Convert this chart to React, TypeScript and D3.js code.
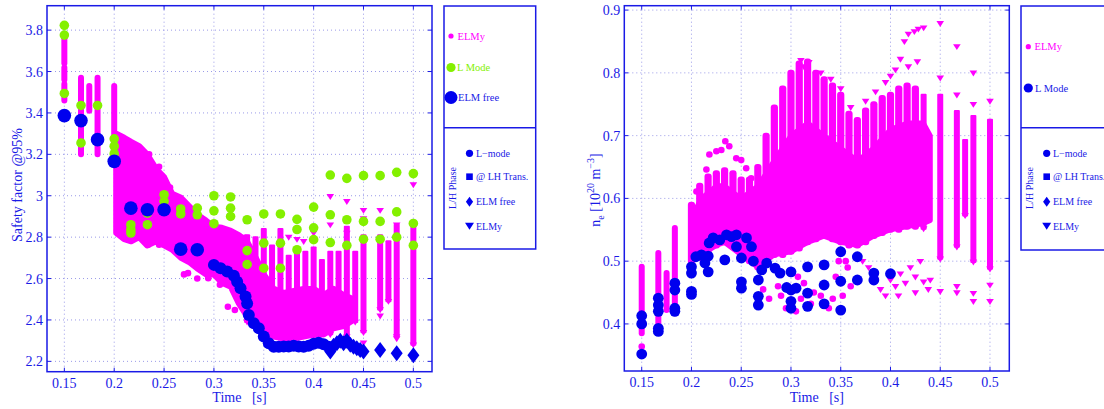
import * as d3 from 'd3';

// ---------- left panel : safety factor ----------
const qTicks = [2.2, 2.4, 2.6, 2.8, 3, 3.2, 3.4, 3.6, 3.8];
const timeTicks = [0.15, 0.2, 0.25, 0.3, 0.35, 0.4, 0.45, 0.5];

// ELMy, early columns (circles)
const qEarlyT = [0.15, 0.15, 0.15, 0.1667, 0.175, 0.1833, 0.2];
const qEarlyLo = [3.64, 3.56, 3.46, 3.2, 3.41, 3.2, 3.2];
const qEarlyHi = [3.78, 3.62, 3.54, 3.57, 3.53, 3.57, 3.53];

// ELMy, dense cloud envelope
const qDenseT = [0.202, 0.21, 0.217, 0.225, 0.233, 0.242, 0.25, 0.258, 0.267, 0.275, 0.283, 0.292, 0.3, 0.308, 0.317, 0.325, 0.333, 0.342, 0.35, 0.36, 0.37, 0.38, 0.39, 0.4, 0.41, 0.42, 0.43, 0.44];
const qDenseHi = [3.3, 3.28, 3.26, 3.24, 3.2, 3.13, 3.09, 3.01, 2.99, 2.95, 2.91, 2.88, 2.85, 2.845, 2.83, 2.81, 2.78, 2.7, 2.62, 2.55, 2.53, 2.54, 2.55, 2.55, 2.52, 2.55, 2.52, 2.5];
const qDenseLo = [2.82, 2.79, 2.78, 2.8, 2.76, 2.78, 2.76, 2.74, 2.7, 2.68, 2.65, 2.62, 2.62, 2.58, 2.56, 2.48, 2.42, 2.37, 2.34, 2.32, 2.31, 2.31, 2.32, 2.33, 2.33, 2.36, 2.37, 2.4];

// ELMy, triangle columns
const qColT = [0.3333, 0.3417, 0.35, 0.3583, 0.3667, 0.375, 0.3833, 0.3917, 0.4, 0.4083, 0.4167, 0.425, 0.4333, 0.4417, 0.45, 0.4667, 0.475, 0.4833, 0.5];
const qColLo = [2.4, 2.45, 2.33, 2.45, 2.34, 2.45, 2.33, 2.45, 2.33, 2.45, 2.34, 2.45, 2.33, 2.4, 2.35, 2.46, 2.5, 2.33, 2.29];
const qColHi = [2.8, 2.79, 2.83, 2.75, 2.83, 2.7, 2.72, 2.72, 2.74, 2.68, 2.72, 2.72, 2.84, 2.72, 2.8, 2.8, 2.77, 2.85, 2.84];

const qDotT = [0.235, 0.245, 0.256, 0.234, 0.245, 0.2167, 0.274, 0.2833, 0.2943, 0.306, 0.314, 0.321, 0.2333, 0.2433, 0.27];
const qDotQ = [3.2, 3.14, 3.04, 2.763, 2.763, 2.787, 2.626, 2.6, 2.602, 2.57, 2.464, 2.448, 2.766, 2.795, 2.62];

const qTriT = [0.31, 0.315, 0.32, 0.325, 0.33, 0.4167, 0.4333, 0.45, 0.4667, 0.5, 0.4, 0.3833, 0.375, 0.39, 0.45, 0.4833, 0.4833, 0.4667, 0.45, 0.4167, 0.4333];
const qTriQ = [2.8, 2.79, 2.81, 2.79, 2.8, 2.997, 2.973, 2.93, 2.93, 3.054, 2.82, 2.79, 2.8, 2.78, 2.89, 2.86, 2.31, 2.42, 2.29, 2.86, 2.82];

// L Mode
const lModeT = [0.15, 0.15, 0.15, 0.1667, 0.1667, 0.1833, 0.2, 0.2, 0.2, 0.2167, 0.2167, 0.2167, 0.2333, 0.2333, 0.25, 0.25, 0.2667, 0.2667, 0.2833, 0.2833, 0.3, 0.3, 0.3, 0.3167, 0.3167, 0.3167, 0.3333, 0.3333, 0.3333, 0.35, 0.35, 0.35, 0.3667, 0.3667, 0.3667, 0.3833, 0.3833, 0.3833, 0.4, 0.4, 0.4, 0.4167, 0.4167, 0.4167, 0.4333, 0.4333, 0.4333, 0.45, 0.45, 0.45, 0.4667, 0.4667, 0.4667, 0.4833, 0.4833, 0.4833, 0.5, 0.5, 0.5];
const lModeQ = [3.823, 3.776, 3.494, 3.436, 3.255, 3.436, 3.275, 3.239, 3.203, 2.86, 2.836, 2.82, 2.86, 2.916, 3.005, 2.973, 2.936, 2.912, 2.94, 2.908, 3.0, 2.927, 2.865, 2.994, 2.94, 2.9, 2.884, 2.735, 2.668, 2.912, 2.771, 2.65, 2.912, 2.771, 2.65, 2.886, 2.837, 2.739, 2.945, 2.845, 2.788, 3.1, 2.908, 2.774, 3.084, 2.884, 2.76, 3.097, 2.876, 2.79, 3.097, 2.876, 2.79, 3.113, 2.922, 2.8, 3.107, 2.866, 2.76];

// ELM free
const freeT = [0.15, 0.1667, 0.1833, 0.2, 0.2167, 0.2333, 0.25, 0.2667, 0.2833];
const freeQ = [3.387, 3.363, 3.271, 3.166, 2.94, 2.932, 2.932, 2.742, 2.739];
const freeCurveT = [0.3, 0.3067, 0.3133, 0.32, 0.3233, 0.3267, 0.3317, 0.3333, 0.335, 0.34, 0.345, 0.35, 0.355, 0.36, 0.365, 0.37, 0.375, 0.38, 0.385, 0.39, 0.395, 0.4, 0.405, 0.41, 0.415];
const freeCurveQ = [2.666, 2.65, 2.634, 2.613, 2.585, 2.553, 2.513, 2.48, 2.424, 2.384, 2.36, 2.32, 2.287, 2.27, 2.27, 2.272, 2.272, 2.275, 2.272, 2.27, 2.275, 2.285, 2.29, 2.283, 2.27];
const freeDiaT = [0.4167, 0.42, 0.4233, 0.4267, 0.43, 0.4333, 0.4367, 0.44, 0.4433, 0.4467, 0.45, 0.4667, 0.4833, 0.5];
const freeDiaQ = [2.247, 2.275, 2.287, 2.3, 2.287, 2.3, 2.28, 2.27, 2.263, 2.255, 2.247, 2.255, 2.239, 2.23];

// ---------- right panel : density ----------
const neTicks = [0.4, 0.5, 0.6, 0.7, 0.8, 0.9];

const nEarlyT = [0.15, 0.1667, 0.175, 0.1833];
const nEarlyLo = [0.385, 0.39, 0.422, 0.417];
const nEarlyHi = [0.491, 0.513, 0.481, 0.553];

const nCoreT = [0.2, 0.21, 0.225, 0.233, 0.25, 0.267, 0.283, 0.3, 0.317, 0.333, 0.35, 0.367, 0.383, 0.4, 0.417, 0.433, 0.44];
const nCoreLo = [0.5, 0.51, 0.525, 0.53, 0.51, 0.49, 0.51, 0.515, 0.53, 0.54, 0.53, 0.525, 0.54, 0.55, 0.555, 0.56, 0.565];
const nCoreHi = [0.57, 0.6, 0.62, 0.62, 0.6, 0.62, 0.66, 0.7, 0.72, 0.7, 0.68, 0.66, 0.68, 0.71, 0.72, 0.72, 0.7];

const nStreakT = [0.2, 0.2083, 0.2167, 0.225, 0.2333, 0.2417, 0.25, 0.2583, 0.2667, 0.275, 0.2833, 0.2917, 0.3, 0.3083, 0.3167, 0.325, 0.3333, 0.3417, 0.35, 0.3583, 0.3667, 0.375, 0.3833, 0.3917, 0.4, 0.4083, 0.4167, 0.425];
const nStreakHi = [0.59, 0.62, 0.635, 0.64, 0.645, 0.64, 0.63, 0.63, 0.65, 0.7, 0.745, 0.775, 0.8, 0.815, 0.818, 0.8, 0.79, 0.78, 0.765, 0.735, 0.725, 0.74, 0.75, 0.76, 0.765, 0.775, 0.78, 0.775];
const nStreakLo = [0.5, 0.505, 0.515, 0.525, 0.53, 0.525, 0.51, 0.5, 0.49, 0.5, 0.51, 0.51, 0.515, 0.52, 0.53, 0.535, 0.54, 0.535, 0.53, 0.525, 0.525, 0.53, 0.54, 0.545, 0.55, 0.55, 0.555, 0.555];

const nColT = [0.4333, 0.45, 0.4667, 0.475, 0.4833, 0.5];
const nColLo = [0.555, 0.507, 0.526, 0.576, 0.502, 0.491];
const nColHi = [0.762, 0.762, 0.736, 0.69, 0.728, 0.722];

const nDotT = [0.15, 0.205, 0.215, 0.218, 0.225, 0.23, 0.234, 0.238, 0.245, 0.25, 0.255, 0.26, 0.272, 0.278, 0.29, 0.295, 0.305, 0.31, 0.313, 0.32, 0.323, 0.33, 0.338, 0.342, 0.345, 0.352, 0.357, 0.36, 0.355, 0.348, 0.307, 0.287];
const nDotN = [0.364, 0.611, 0.646, 0.67, 0.675, 0.677, 0.691, 0.683, 0.664, 0.661, 0.648, 0.632, 0.455, 0.44, 0.445, 0.425, 0.42, 0.44, 0.465, 0.432, 0.45, 0.445, 0.425, 0.44, 0.475, 0.445, 0.49, 0.46, 0.5, 0.5, 0.475, 0.46];

const nTriT = [0.45, 0.45, 0.45, 0.4667, 0.4667, 0.4667, 0.4667, 0.4833, 0.4833, 0.4833, 0.4833, 0.5, 0.5, 0.5, 0.4333, 0.372, 0.378, 0.385, 0.39, 0.395, 0.4, 0.405, 0.41, 0.415, 0.42, 0.425, 0.43, 0.438, 0.44, 0.408, 0.425, 0.395, 0.4, 0.405, 0.41, 0.414, 0.418, 0.424, 0.428, 0.4333, 0.427, 0.418, 0.31, 0.313, 0.318, 0.33, 0.34, 0.35, 0.36, 0.375, 0.385];
const nTriN = [0.792, 0.879, 0.452, 0.765, 0.842, 0.46, 0.45, 0.8, 0.75, 0.449, 0.436, 0.755, 0.462, 0.436, 0.467, 0.5, 0.49, 0.47, 0.455, 0.445, 0.47, 0.46, 0.48, 0.465, 0.49, 0.475, 0.5, 0.455, 0.47, 0.445, 0.45, 0.785, 0.795, 0.805, 0.822, 0.85, 0.862, 0.866, 0.87, 0.872, 0.818, 0.81, 0.82, 0.81, 0.817, 0.8, 0.79, 0.775, 0.745, 0.755, 0.77];

const nLModeT = [0.15, 0.15, 0.15, 0.1667, 0.1667, 0.1667, 0.1667, 0.1667, 0.1833, 0.1833, 0.1833, 0.1833, 0.2, 0.2, 0.2, 0.2, 0.2044, 0.2101, 0.2168, 0.2168, 0.2135, 0.2178, 0.2218, 0.2285, 0.2352, 0.2402, 0.2452, 0.2553, 0.2603, 0.2335, 0.2452, 0.2502, 0.2502, 0.2502, 0.2622, 0.2706, 0.2756, 0.2672, 0.2672, 0.2672, 0.284, 0.289, 0.2957, 0.3051, 0.3, 0.3, 0.3, 0.3, 0.3167, 0.3167, 0.3167, 0.3333, 0.3333, 0.3333, 0.35, 0.35, 0.35, 0.3667, 0.3667, 0.3833, 0.3833, 0.4];
const nLModeN = [0.413, 0.4, 0.352, 0.441, 0.43, 0.42, 0.393, 0.388, 0.465, 0.454, 0.425, 0.42, 0.491, 0.481, 0.452, 0.447, 0.507, 0.51, 0.508, 0.483, 0.497, 0.529, 0.537, 0.534, 0.542, 0.539, 0.542, 0.537, 0.523, 0.502, 0.523, 0.505, 0.467, 0.457, 0.5, 0.486, 0.497, 0.47, 0.444, 0.43, 0.489, 0.481, 0.458, 0.457, 0.483, 0.454, 0.436, 0.425, 0.491, 0.449, 0.428, 0.494, 0.462, 0.432, 0.515, 0.468, 0.422, 0.507, 0.47, 0.481, 0.47, 0.48];

// ---------- styling ----------
const MAG = '#ff00ff';
const GRN = '#84f000';
const BLU = '#0000ee';
const AX = '#1a1ae6';
const GRID = '#9a9ae8';
const FONT = '"Liberation Serif", "Times New Roman", serif';

const tri = (r: number) => `M${-r},${-r * 0.6}L${r},${-r * 0.6}L0,${r * 0.95}Z`;
const dia = (w: number, h: number) => `M0,${-h}L${w},0L0,${h}L${-w},0Z`;

function Grid({ x, y, ticks, left, top, right, bottom }: any) {
  return (
    <g>
      {timeTicks.map((t) => (
        <line key={'gx' + t} x1={x(t)} x2={x(t)} y1={top} y2={bottom} stroke={GRID} strokeDasharray="1,3" />
      ))}
      {ticks.map((v: number) => (
        <line key={'gy' + v} x1={left} x2={right} y1={y(v)} y2={y(v)} stroke={GRID} strokeDasharray="1,3" />
      ))}
    </g>
  );
}

function Axes({ x, y, ticks, left, top, right, bottom }: any) {
  return (
    <g fill={AX} fontFamily={FONT} fontSize={14}>
      <rect x={left} y={top} width={right - left} height={bottom - top} fill="none" stroke={AX} strokeWidth={1.5} />
      {timeTicks.map((t) => (
        <g key={'tx' + t}>
          <line x1={x(t)} x2={x(t)} y1={bottom} y2={bottom - 4} stroke={AX} />
          <line x1={x(t)} x2={x(t)} y1={top} y2={top + 4} stroke={AX} />
          <text x={x(t)} y={bottom + 16} textAnchor="middle">{String(t)}</text>
        </g>
      ))}
      {ticks.map((v: number) => (
        <g key={'ty' + v}>
          <line x1={left} x2={left + 4} y1={y(v)} y2={y(v)} stroke={AX} />
          <line x1={right} x2={right - 4} y1={y(v)} y2={y(v)} stroke={AX} />
          <text x={left - 4} y={y(v) + 5} textAnchor="end">{String(v)}</text>
        </g>
      ))}
      <text x={(left + right) / 2} y={402} textAnchor="middle" xmlSpace="preserve">Time   [s]</text>
    </g>
  );
}

function PhaseLegend({ lx, mx, tx }: any) {
  const rows = [153.3, 176.7, 201.7, 226];
  return (
    <g fontFamily={FONT} fontSize={10} fill={AX}>
      <text transform={`translate(${lx},188) rotate(-90)`} textAnchor="middle">L/H Phase</text>
      <circle cx={mx} cy={rows[0]} r={3.6} fill={BLU} />
      <rect x={mx - 3.3} y={rows[1] - 3.3} width={6.6} height={6.6} fill={BLU} />
      <path d={dia(3.6, 5)} transform={`translate(${mx},${rows[2]})`} fill={BLU} />
      <path d={tri(4.5)} transform={`translate(${mx},${rows[3] - 0.5})`} fill={BLU} />
      <text x={tx} y={rows[0] + 3.5}>L−mode</text>
      <text x={tx} y={rows[1] + 3.5}>@ LH Trans.</text>
      <text x={tx} y={rows[2] + 3.5}>ELM free</text>
      <text x={tx} y={rows[3] + 3.5}>ELMy</text>
    </g>
  );
}

export default function App() {
  // left panel scales
  const xL = d3.scaleLinear().domain([0.1326, 0.5187]).range([47, 432]);
  const yL = d3.scaleLinear().domain([2.15, 3.918]).range([371.7, 5.7]);
  // right panel scales
  const xR = d3.scaleLinear().domain([0.1325, 0.5194]).range([624.3, 1009.3]);
  const yR = d3.scaleLinear().domain([0.325, 0.907]).range([371, 5.7]);

  const qArea = d3.area<number>()
    .x((_, i) => xL(qDenseT[i]))
    .y0((_, i) => yL(qDenseLo[i]))
    .y1((_, i) => yL(qDenseHi[i]));
  const nArea = d3.area<number>()
    .x((_, i) => xR(nCoreT[i]))
    .y0((_, i) => yR(nCoreLo[i]))
    .y1((_, i) => yR(nCoreHi[i]));

  const band = (x: number, yHi: number, yLo: number, key: string, round: boolean, w = 6) => (
    <rect key={key} x={x - w / 2} y={yHi - 3} width={w} height={Math.max(yLo - yHi + 6, 6)} rx={round ? 3 : 1} fill={MAG} />
  );

  return (
    <svg width={1104} height={409} style={{ position: 'absolute', left: 0, top: 0, background: '#fff' }}>
      {/* ---------------- left panel ---------------- */}
      <Grid x={xL} y={yL} ticks={qTicks} left={47} right={432} top={5.7} bottom={371.7} />
      <g>
        {qEarlyT.map((t, i) => band(xL(t), yL(qEarlyHi[i]), yL(qEarlyLo[i]), 'qe' + i, true))}
        <path d={qArea(qDenseT) || ''} fill={MAG} stroke={MAG} strokeWidth={6} strokeLinejoin="round" />
        {qColT.map((t, i) => (
          <g key={'qc' + i}>
            {band(xL(t), yL(qColHi[i]), yL(qColLo[i]), 'qcb' + i, false)}
            <path d={tri(3.8)} transform={`translate(${xL(t)},${yL(qColLo[i]) + 2})`} fill={MAG} />
          </g>
        ))}
        {qDotT.map((t, i) => <circle key={'qd' + i} cx={xL(t)} cy={yL(qDotQ[i])} r={3.3} fill={MAG} />)}
        {qTriT.map((t, i) => <path key={'qt' + i} d={tri(3.8)} transform={`translate(${xL(t)},${yL(qTriQ[i])})`} fill={MAG} />)}
      </g>
      <g fill={GRN}>
        {lModeT.map((t, i) => <circle key={'lm' + i} cx={xL(t)} cy={yL(lModeQ[i])} r={4.8} />)}
      </g>
      <g fill={BLU}>
        {freeCurveT.map((t, i) => <circle key={'fc' + i} cx={xL(t)} cy={yL(freeCurveQ[i])} r={6} />)}
        {freeDiaT.map((t, i) => <path key={'fd' + i} d={dia(6, 8)} transform={`translate(${xL(t)},${yL(freeDiaQ[i])})`} />)}
        {freeT.map((t, i) => <circle key={'fb' + i} cx={xL(t)} cy={yL(freeQ[i])} r={6.8} />)}
      </g>
      <Axes x={xL} y={yL} ticks={qTicks} left={47} right={432} top={5.7} bottom={371.7} />
      <text transform="translate(22,185) rotate(-90)" textAnchor="middle" fontFamily={FONT} fontSize={14} fill={AX}>Safety factor @95%</text>

      {/* left legend */}
      <rect x={444} y={6} width={91.7} height={243} fill="none" stroke={AX} strokeWidth={1.5} />
      <line x1={444} x2={535.7} y1={127.7} y2={127.7} stroke={AX} strokeWidth={1.5} />
      <g fontFamily={FONT} fontSize={10.5}>
        <circle cx={451} cy={36} r={2.6} fill={MAG} />
        <text x={457.5} y={39.5} fill={MAG}>ELMy</text>
        <circle cx={451} cy={67.5} r={4.6} fill={GRN} />
        <text x={457} y={71} fill={GRN}>L Mode</text>
        <circle cx={451} cy={97.5} r={6.5} fill={BLU} />
        <text x={458} y={101} fill={AX}>ELM free</text>
      </g>
      <PhaseLegend lx={456} mx={469.5} tx={476} />

      {/* ---------------- right panel ---------------- */}
      <Grid x={xR} y={yR} ticks={neTicks} left={624.3} right={1009.3} top={5.7} bottom={371} />
      <g>
        {nEarlyT.map((t, i) => band(xR(t), yR(nEarlyHi[i]), yR(nEarlyLo[i]), 'ne' + i, true))}
        <path d={nArea(nCoreT) || ''} fill={MAG} stroke={MAG} strokeWidth={5} strokeLinejoin="round" />
        {nStreakT.map((t, i) => band(xR(t), yR(nStreakHi[i]), yR(nStreakLo[i]), 'ns' + i, true, 7.2))}
        {nColT.map((t, i) => (
          <g key={'nc' + i}>
            {band(xR(t), yR(nColHi[i]), yR(nColLo[i]), 'ncb' + i, false)}
            <path d={tri(3.8)} transform={`translate(${xR(t)},${yR(nColLo[i]) + 2})`} fill={MAG} />
          </g>
        ))}
        {nDotT.map((t, i) => <circle key={'nd' + i} cx={xR(t)} cy={yR(nDotN[i])} r={3.3} fill={MAG} />)}
        {nTriT.map((t, i) => <path key={'nt' + i} d={tri(3.8)} transform={`translate(${xR(t)},${yR(nTriN[i])})`} fill={MAG} />)}
      </g>
      <g fill={BLU}>
        {nLModeT.map((t, i) => <circle key={'nl' + i} cx={xR(t)} cy={yR(nLModeN[i])} r={5.4} />)}
      </g>
      <Axes x={xR} y={yR} ticks={neTicks} left={624.3} right={1009.3} top={5.7} bottom={371} />
      <text transform="translate(600,190) rotate(-90)" textAnchor="middle" fontFamily={FONT} fontSize={14} fill={AX}>
        <tspan>n</tspan>
        <tspan dy={4} fontSize={10}>e</tspan>
        <tspan dy={-4} xmlSpace="preserve"> [10</tspan>
        <tspan dy={-6} fontSize={10}>20</tspan>
        <tspan dy={6} xmlSpace="preserve"> m</tspan>
        <tspan dy={-6} fontSize={10}>−3</tspan>
        <tspan dy={6}>]</tspan>
      </text>

      {/* right legend */}
      <rect x={1021} y={6} width={92} height={244} fill="none" stroke={AX} strokeWidth={1.5} />
      <line x1={1021} x2={1113} y1={127.7} y2={127.7} stroke={AX} strokeWidth={1.5} />
      <g fontFamily={FONT} fontSize={10.5}>
        <circle cx={1028.3} cy={46.7} r={2.6} fill={MAG} />
        <text x={1034.5} y={50.2} fill={MAG}>ELMy</text>
        <circle cx={1028.3} cy={88} r={4.6} fill={BLU} />
        <text x={1035} y={91.5} fill={AX}>L Mode</text>
      </g>
      <PhaseLegend lx={1033} mx={1046.7} tx={1053} />
    </svg>
  );
}
